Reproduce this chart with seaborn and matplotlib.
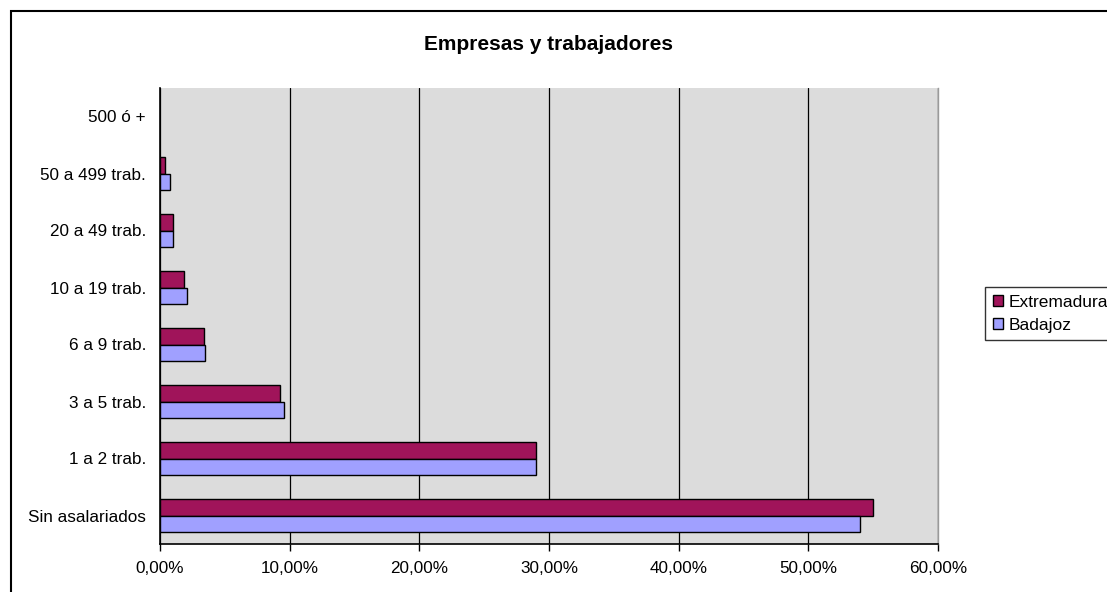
import matplotlib
matplotlib.use("Agg")
import matplotlib.pyplot as plt
import seaborn as sns
import pandas as pd
from matplotlib.patches import Rectangle
from matplotlib.ticker import FuncFormatter, MultipleLocator

categories = ["500 ó +", "50 a 499 trab.", "20 a 49 trab.", "10 a 19 trab.",
              "6 a 9 trab.", "3 a 5 trab.", "1 a 2 trab.", "Sin asalariados"]
extremadura = [0.0, 0.4, 1.0, 1.85, 3.4, 9.25, 29.0, 55.0]
badajoz = [0.0, 0.8, 1.0, 2.05, 3.5, 9.6, 29.0, 54.0]
series = ["Extremadura", "Badajoz"]
colors = ["#A0145A", "#A0A0FF"]

df = pd.DataFrame({
    "cat": categories * 2,
    "val": extremadura + badajoz,
    "serie": ["Extremadura"] * len(categories) + ["Badajoz"] * len(categories),
})

sns.set_style("white")
plt.rcParams["font.family"] = ["Liberation Sans", "DejaVu Sans"]
plt.rcParams["text.color"] = "black"
plt.rcParams["xtick.color"] = "black"
plt.rcParams["ytick.color"] = "black"

fig = plt.figure(figsize=(11.07, 5.92), dpi=100)
ax = fig.add_axes([160 / 1107, 1 - 544 / 592, (938 - 160) / 1107, (544 - 88) / 592])

sns.barplot(data=df, x="val", y="cat", hue="serie", order=categories,
            hue_order=series, palette=colors, width=0.58, ax=ax,
            edgecolor="black", linewidth=1.0, saturation=1, legend=True)

for p in ax.patches:
    if p.get_width() == 0:
        p.set_linewidth(0)

ax.set_facecolor("#DCDCDC")
ax.set_xlim(0, 60)
ax.set_ylim(len(categories) - 0.5, -0.5)
ax.xaxis.set_major_locator(MultipleLocator(10))
ax.xaxis.set_major_formatter(FuncFormatter(lambda v, p: f"{v:.2f}%".replace(".", ",")))
ax.set_axisbelow(True)
ax.grid(axis="x", color="black", linewidth=0.9)
ax.grid(axis="y", visible=False)
ax.set_xlabel("")
ax.set_ylabel("")

ax.set_yticks(range(len(categories)))
ax.set_yticklabels(categories)
ax.tick_params(axis="y", which="major", length=0, pad=10, labelsize=12.3, labelcolor="black")
ax.set_yticks([i - 0.5 for i in range(len(categories) + 1)], minor=True)
ax.tick_params(axis="y", which="minor", length=5, width=1, color="black", direction="out")
ax.tick_params(axis="x", which="major", length=5, width=1, color="black",
               direction="out", labelsize=12.3, pad=7, bottom=True, labelcolor="black")

for s in ["left", "bottom"]:
    ax.spines[s].set_color("black")
    ax.spines[s].set_linewidth(1.2)
ax.spines["top"].set_visible(False)
ax.spines["right"].set_color("#9A9A9A")
ax.spines["right"].set_linewidth(1.0)

leg = ax.legend(loc="upper left", bbox_to_anchor=(985 / 1107, 1 - 287 / 592),
                bbox_transform=fig.transFigure, frameon=True, fontsize=12.5,
                handlelength=0.6, handleheight=0.6, handletextpad=0.3,
                borderpad=0.45, labelspacing=0.45, fancybox=False, borderaxespad=0)
leg.get_frame().set_edgecolor("black")
leg.get_frame().set_linewidth(1.0)
for t in leg.get_texts():
    t.set_color("black")
for h in leg.legend_handles:
    h.set_edgecolor("black")
    h.set_linewidth(1.0)

fig.text(0.5 * (160 + 938) / 1107 + 0.0, 1 - 45 / 592, "Empresas y trabajadores",
         ha="center", va="center", fontsize=15, fontweight="bold", color="black")

fig.patches.append(Rectangle((11 / 1107, -0.05), 1.2, 1 - 11 / 592 + 0.05,
                             transform=fig.transFigure, fill=False,
                             edgecolor="black", linewidth=1.5, zorder=-1))

fig.savefig("out.png", dpi=100)
